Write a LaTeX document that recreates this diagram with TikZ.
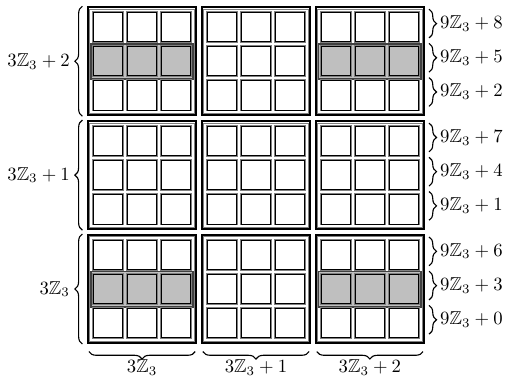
\documentclass[tikz,border=0pt]{standalone}
\usepackage{amsmath}
\usepackage{amssymb}
\usetikzlibrary{positioning, calc, decorations.pathreplacing}

\begin{document}
\begin{tikzpicture}[
    x=0.643cm, y=0.643cm,
    block/.style={draw, line width=1.1pt, minimum size=2.03cm, inner sep=0pt},
    cell/.style={draw, line width=0.5pt, minimum size=0.55cm, inner sep=0pt, preaction={draw=gray, line width=1.5pt}},
    hirow/.style={draw=black!75, line width=1pt, fill=black!25, minimum width=1.93cm, minimum height=0.66cm, inner sep=0pt},
    brc/.style={decorate, decoration={brace, amplitude=4pt}, line width=0.6pt},
    lbl/.style={inner sep=1pt, font=\normalsize}
]
\useasboundingbox (-2.573,-0.965) rectangle (12.19,10.03);

% ================= Blocks =================

\foreach \i in {0,1,2}{
  \foreach \j in {0,1,2}{
    \node[block] (b\i\j) at ({3.33*\i+1.58}, {3.33*\j+1.58}) {};
    \draw[gray, line width=0.4pt] ([shift={(1.5pt,1.5pt)}]b\i\j.south west) rectangle ([shift={(-1.5pt,-1.5pt)}]b\i\j.north east);
  }
}

% Shaded middle rows
\foreach \i in {0,2}{
  \foreach \j in {0,2}{
    \node[hirow] (h\i\j) at (b\i\j) {};
  }
}

% ================= Cells =================

\foreach \i in {0,1,2}{
  \foreach \j in {0,1,2}{
    \foreach \k in {0,1,2}{
      \foreach \l in {0,1,2}{
        \pgfmathtruncatemacro{\shade}{(\k==1)*(\i!=1)*(\j!=1)*25}
        \node[cell, fill=black!\shade] (c\i\j\k\l) at ({3.33*\i+0.58+\l}, {3.33*\j+0.58+\k}) {};
      }
    }
  }
}

% ================= Braces =================

% Left: block rows
\foreach \j/\t in {0/{3\mathbb{Z}_3}, 1/{3\mathbb{Z}_3+1}, 2/{3\mathbb{Z}_3+2}}{
  \draw[brc] ([xshift=-2.5pt]b0\j.south west) -- ([xshift=-2.5pt]b0\j.north west);
  \node[lbl, anchor=east] (rowlbl\j) at ([xshift=-8pt]b0\j.west) {$\t$};
}

% Bottom: block columns
\foreach \i/\t in {0/{3\mathbb{Z}_3}, 1/{3\mathbb{Z}_3+1}, 2/{3\mathbb{Z}_3+2}}{
  \draw[brc] ([shift={(-1pt,-4pt)}]b\i0.south east) -- ([shift={(1pt,-4pt)}]b\i0.south west);
  \node[lbl, anchor=north] (collbl\i) at ([yshift=-7.3pt]b\i0.south) {$\t$};
}

% Right: single cell rows
\foreach \j in {0,1,2}{
  \foreach \k in {0,1,2}{
    \pgfmathtruncatemacro{\n}{3*\k+\j}
    \coordinate (r\j\k) at (b2\j.east |- c2\j\k2.center);
    \draw[brc] ([shift={(2.2pt,0.335cm)}]r\j\k) -- ([shift={(2.2pt,-0.205cm)}]r\j\k);
    \node[lbl, anchor=west] (reslbl\j\k) at ([shift={(7pt,0.07cm)}]r\j\k) {$9\mathbb{Z}_3+\n$};
  }
}

\end{tikzpicture}
\end{document}
